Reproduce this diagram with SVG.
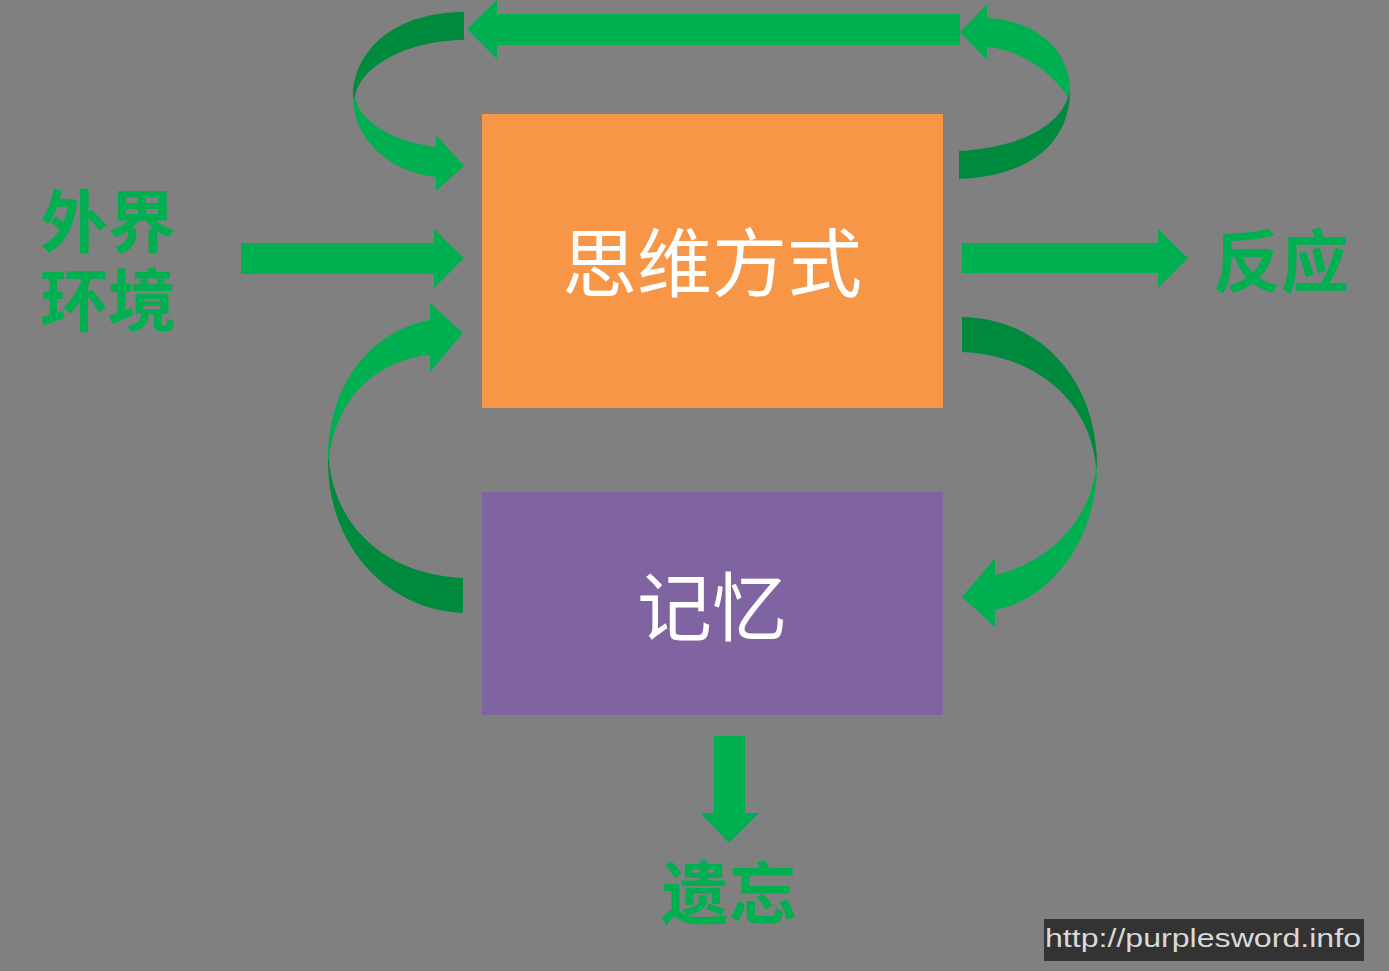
<svg xmlns="http://www.w3.org/2000/svg" width="1389" height="971" viewBox="0 0 1389 971">
<style>
.lt{fill:#00B050}
.dk{fill:#008A3E}
.lbl{font-family:"Noto Sans CJK SC","Noto Sans",sans-serif;font-weight:bold;font-size:68px;fill:#00B050}
.box{font-family:"Noto Sans CJK SC","Noto Sans",sans-serif;font-size:75px;fill:#FFFFFF;text-anchor:middle}
</style>
<rect width="1389" height="971" fill="#808080"/>
<g id="connectors">
<path class="lt" d="M467,29 L497,0 L497,14 L960,14 L960,45 L497,45 L497,59 Z"/>
<path class="lt" d="M241,243 L434,243 L434,229 L464,258 L434,288 L434,274 L241,274 Z"/>
<path class="lt" d="M962,243 L1158,243 L1158,229 L1188,258 L1158,288 L1158,273 L962,273 Z"/>
<path class="lt" d="M714,736 L745,736 L745,813 L759,813 L729,843 L700,813 L714,813 Z"/>
<g id="curve-top-left">
<path class="dk" d="M464,12 C395,12 353,50 353,97 L355,97 C360,65 410,40 464,40 Z"/>
<path class="lt" d="M353,97 C353,140 390,172 436,177 L436,191 L464,166 L436,135 L436,147 C400,143 360,125 355,97 Z"/>
</g>
<g id="curve-top-right">
<path class="lt" d="M960,32 L987,4 L987,18 C1035,20 1070,50 1070,90 L1068,97 C1050,70 1020,50 987,47 L987,60 Z"/>
<path class="dk" d="M1070,90 C1070,150 1020,177 959,179 L959,151 C1020,148 1060,125 1068,97 Z"/>
</g>
<g id="curve-left">
<path class="lt" d="M463,333 L430,303 L430,320 C375,330 328,380 328,460 L329,460 C335,400 375,360 430,355 L430,372 Z"/>
<path class="dk" d="M328,460 C328,550 390,610 463,613 L463,578 C390,575 335,530 329,460 Z"/>
</g>
<g id="curve-right">
<path class="dk" d="M962,317 C1040,318 1097,380 1097,465 L1096,467 C1090,400 1035,355 962,352 Z"/>
<path class="lt" d="M1097,465 C1097,540 1050,600 995,610 L995,627 L962,597 L995,558 L995,575 C1050,562 1090,520 1096,467 Z"/>
</g>
</g>
<g id="node-thinking">
<rect x="482" y="114" width="461" height="294" fill="#F79646"/>
<text class="box" x="712" y="291">思维方式</text>
</g>
<g id="node-memory">
<rect x="482" y="492" width="461" height="223" fill="#8064A2"/>
<text class="box" x="712" y="635">记忆</text>
</g>
<g id="node-environment">
<text class="lbl"><tspan x="40" y="247">外界</tspan><tspan x="40" y="326">环境</tspan></text>
</g>
<g id="node-reaction">
<text class="lbl" x="1213" y="287">反应</text>
</g>
<g id="node-forget">
<text class="lbl" x="661" y="919">遗忘</text>
</g>
<g id="watermark">
<rect x="1044" y="919" width="320" height="42" fill="#333333"/>
<text x="1045" y="947" font-family="Liberation Sans, Arial, sans-serif" font-size="26.5" fill="#D9D9D9" textLength="316" lengthAdjust="spacingAndGlyphs">http://purplesword.info</text>
</g>
</svg>
